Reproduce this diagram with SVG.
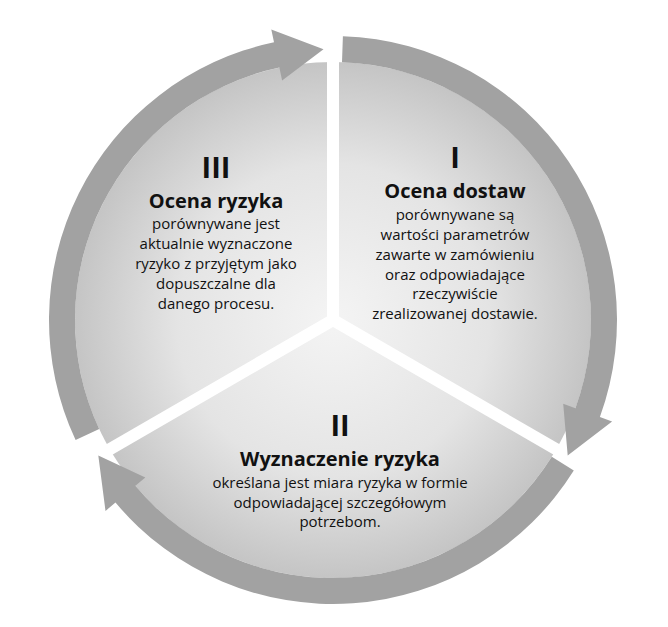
<svg xmlns="http://www.w3.org/2000/svg" width="668" height="627" viewBox="0 0 668 627">
<defs>
<radialGradient id="seg" gradientUnits="userSpaceOnUse" cx="333" cy="320" r="260">
<stop offset="0" stop-color="#f4f4f4"/><stop offset="0.6" stop-color="#e4e4e4"/><stop offset="1" stop-color="#c4c4c4"/>
</radialGradient>
<style>
.seg{fill:url(#seg)}
.arr{fill:#a2a2a2}
.gap{stroke:#fff;stroke-width:12}
text{font-family:"Open Sans","Noto Sans",sans-serif;text-anchor:middle;fill:#111}
.num{font-size:29px;font-weight:bold}
.ttl{font-size:20px;font-weight:bold}
.body{font-size:15px}
</style>
</defs>
<rect width="668" height="627" fill="#fff"/>
<g id="segments">
<path class="seg" d="M333 320 L333 62 A258 258 0 0 1 556.4 449 Z"/>
<path class="seg" d="M333 320 L556.4 449 A258 258 0 0 1 109.6 449 Z"/>
<path class="seg" d="M333 320 L109.6 449 A258 258 0 0 1 333 62 Z"/>
<line class="gap" x1="333" y1="320" x2="333" y2="40"/>
<line class="gap" x1="333" y1="320" x2="580" y2="463"/>
<line class="gap" x1="333" y1="320" x2="86" y2="463"/>
</g>
<g id="connectors">
<path class="arr" d="M75.6 440 A284 284 0 0 1 274 42.2 L271.3 29.5 L323.5 49.2 L282.1 80.4 L279.4 67.6 A258 258 0 0 0 99.2 429 Z"/>
<path class="arr" d="M342.9 36.2 A284 284 0 0 1 599.9 417.1 L612.1 421.6 L567.7 455.5 L563.2 403.8 L575.4 408.2 A258 258 0 0 0 342 62.2 Z"/>
<path class="arr" d="M573.8 470.5 A284 284 0 0 1 115.5 502.6 L105.5 510.9 L98.3 455.5 L145.3 477.5 L135.4 485.8 A258 258 0 0 0 551.8 456.7 Z"/>
</g>
<g id="node-III">
<text class="num" x="216" y="178">III</text>
<text class="ttl" x="216" y="208">Ocena ryzyka</text>
<text class="body" x="216" y="229">porównywane jest</text>
<text class="body" x="216" y="249">aktualnie wyznaczone</text>
<text class="body" x="216" y="269">ryzyko z przyjętym jako</text>
<text class="body" x="216" y="289">dopuszczalne dla</text>
<text class="body" x="216" y="309">danego procesu.</text>
</g>
<g id="node-I">
<text class="num" x="455" y="168">I</text>
<text class="ttl" x="455" y="198">Ocena dostaw</text>
<text class="body" x="455" y="220">porównywane są</text>
<text class="body" x="455" y="240">wartości parametrów</text>
<text class="body" x="455" y="260">zawarte w zamówieniu</text>
<text class="body" x="455" y="280">oraz odpowiadające</text>
<text class="body" x="455" y="299">rzeczywiście</text>
<text class="body" x="455" y="319">zrealizowanej dostawie.</text>
</g>
<g id="node-II">
<text class="num" x="340" y="436">II</text>
<text class="ttl" x="340" y="466">Wyznaczenie ryzyka</text>
<text class="body" x="340" y="488">określana jest miara ryzyka w formie</text>
<text class="body" x="340" y="508">odpowiadającej szczegółowym</text>
<text class="body" x="340" y="527">potrzebom.</text>
</g>
</svg>
